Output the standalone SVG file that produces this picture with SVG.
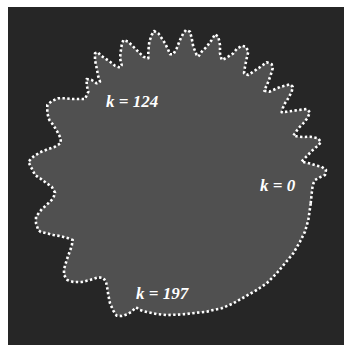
<svg xmlns="http://www.w3.org/2000/svg" width="344" height="345" viewBox="0 0 344 345">
<style>
.lbl{font-family:"Liberation Serif","Times New Roman",serif;font-weight:bold;font-style:italic;font-size:17px;fill:#ffffff}
.blob{fill:#505050;stroke:none}
.dots{fill:none;stroke:#ffffff;stroke-width:2.6;stroke-dasharray:2.4 2.4;stroke-linejoin:round}
</style>
<rect x="0" y="0" width="344" height="345" fill="#ffffff"/>
<rect id="background" x="8" y="7" width="336" height="338" fill="#262626"/>
<g id="contour">
<polygon id="outline-fill" class="blob" points="310.7,203.3 311.7,193.3 312.7,185 315,180 320,177.3 325,175 326,170 321.7,166.7 316.7,165.7 311.7,164 306.7,162.7 301.3,161.7 307.3,155.7 311.7,151 316.7,146.7 321,142.3 318.3,138.3 310,136.7 303.3,137 298.3,136.7 293.3,135.7 298.3,128.3 303.3,123.3 307.3,118.3 310,112.3 306.7,109 296.7,110.3 286.7,111.7 281.7,112.3 282.7,108.3 285,103.3 288.3,98.3 291.7,91.7 292.7,86.7 290,84.3 280,87 269.3,91.7 264.3,90.7 268.3,81.7 270.7,75 272.7,68.3 271.7,64.3 266.7,62.3 258.3,68.3 253.3,71.7 248.3,75 244,73.3 245,66.7 246.7,58.3 248.3,51.7 246,46.7 241.7,45.7 236.7,49 233.3,53.3 226.7,57.7 221.7,60 220,53.3 220,45 218.3,36.7 215,34.3 211.7,40 206.7,46.7 201.7,51.7 198.3,56.7 196.7,55 193.3,46.7 191.7,38.3 190,31.7 186,30 183.3,33.3 180,40 176.7,48.3 173.3,54.3 170,54.3 168.3,50 165,43.3 161.7,38.3 158.3,33.3 154,31 151.7,35 149.3,41.7 148.3,51.7 148.3,58.3 143.3,56.7 138.3,51.7 133.3,46.7 128.3,41.7 123.3,40 121.7,45 120.7,51.7 120,58.3 121.7,65 120,67.7 115,65.7 110,61.7 105,58.3 100,55 98.3,52.3 95,53.3 95,60 96.7,68.3 98.3,76.7 100,81.7 96.7,83.3 91.7,80 86.7,79 86.7,85 88.3,91.7 85,99 78.3,99 71.7,99 65,98.3 58.3,98.3 51.7,101 47.3,105 47.3,113.3 49.3,120 53.3,125 57.3,131.7 60.7,138.3 60.7,143.3 55,146.7 48.3,149 40,152.3 33.3,156.7 28.3,161.7 31.7,168.3 35,175 40,178.3 46.7,183.3 51.7,186.7 55,192.7 53.3,198.3 48.3,203.3 41.7,209.3 36,216.7 36,223.3 38.3,230 40.7,232 46.7,233.3 53.3,235 60,236 68.3,238.3 72.7,240 71.7,246 69.3,252.7 66.7,260 64,269.3 64,275 67.3,280 73.3,282 81.7,282 90,280 98.3,277.3 103.3,278 106,281.7 107.3,288.3 108.3,295 110,303.3 113.3,310.7 116.7,315.7 121.7,316 127.3,314.3 131.7,311.7 136,307.3 140,310 146.7,312 156.7,314 166.7,315 176.7,314.7 186.7,314 196.7,312.7 206.7,311.7 213.3,310 221.7,308.3 233.3,303.3 245,296.7 256.7,290 266.7,283.3 276.7,273.3 285,263.3 293.3,253.3 300,241.7 305,231.7 308.3,220"/>
<polygon id="outline-dots" class="dots" points="310.7,203.3 311.7,193.3 312.7,185 315,180 320,177.3 325,175 326,170 321.7,166.7 316.7,165.7 311.7,164 306.7,162.7 301.3,161.7 307.3,155.7 311.7,151 316.7,146.7 321,142.3 318.3,138.3 310,136.7 303.3,137 298.3,136.7 293.3,135.7 298.3,128.3 303.3,123.3 307.3,118.3 310,112.3 306.7,109 296.7,110.3 286.7,111.7 281.7,112.3 282.7,108.3 285,103.3 288.3,98.3 291.7,91.7 292.7,86.7 290,84.3 280,87 269.3,91.7 264.3,90.7 268.3,81.7 270.7,75 272.7,68.3 271.7,64.3 266.7,62.3 258.3,68.3 253.3,71.7 248.3,75 244,73.3 245,66.7 246.7,58.3 248.3,51.7 246,46.7 241.7,45.7 236.7,49 233.3,53.3 226.7,57.7 221.7,60 220,53.3 220,45 218.3,36.7 215,34.3 211.7,40 206.7,46.7 201.7,51.7 198.3,56.7 196.7,55 193.3,46.7 191.7,38.3 190,31.7 186,30 183.3,33.3 180,40 176.7,48.3 173.3,54.3 170,54.3 168.3,50 165,43.3 161.7,38.3 158.3,33.3 154,31 151.7,35 149.3,41.7 148.3,51.7 148.3,58.3 143.3,56.7 138.3,51.7 133.3,46.7 128.3,41.7 123.3,40 121.7,45 120.7,51.7 120,58.3 121.7,65 120,67.7 115,65.7 110,61.7 105,58.3 100,55 98.3,52.3 95,53.3 95,60 96.7,68.3 98.3,76.7 100,81.7 96.7,83.3 91.7,80 86.7,79 86.7,85 88.3,91.7 85,99 78.3,99 71.7,99 65,98.3 58.3,98.3 51.7,101 47.3,105 47.3,113.3 49.3,120 53.3,125 57.3,131.7 60.7,138.3 60.7,143.3 55,146.7 48.3,149 40,152.3 33.3,156.7 28.3,161.7 31.7,168.3 35,175 40,178.3 46.7,183.3 51.7,186.7 55,192.7 53.3,198.3 48.3,203.3 41.7,209.3 36,216.7 36,223.3 38.3,230 40.7,232 46.7,233.3 53.3,235 60,236 68.3,238.3 72.7,240 71.7,246 69.3,252.7 66.7,260 64,269.3 64,275 67.3,280 73.3,282 81.7,282 90,280 98.3,277.3 103.3,278 106,281.7 107.3,288.3 108.3,295 110,303.3 113.3,310.7 116.7,315.7 121.7,316 127.3,314.3 131.7,311.7 136,307.3 140,310 146.7,312 156.7,314 166.7,315 176.7,314.7 186.7,314 196.7,312.7 206.7,311.7 213.3,310 221.7,308.3 233.3,303.3 245,296.7 256.7,290 266.7,283.3 276.7,273.3 285,263.3 293.3,253.3 300,241.7 305,231.7 308.3,220"/>
</g>
<g id="labels">
<text id="label-k124" class="lbl" x="106" y="107">k = 124</text>
<text id="label-k0" class="lbl" x="260" y="191">k = 0</text>
<text id="label-k197" class="lbl" x="136" y="299">k = 197</text>
</g>
</svg>
